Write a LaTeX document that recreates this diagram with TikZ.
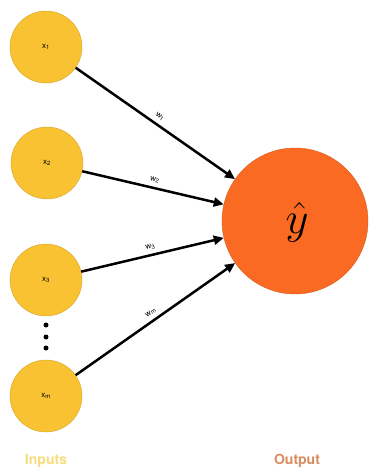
\documentclass[tikz,border=0pt]{standalone}
\usepackage{fontspec}
\setmainfont{TeX Gyre Heros}
\usetikzlibrary{arrows.meta}
\definecolor{inyellow}{HTML}{F8C232}
\definecolor{outorange}{HTML}{FA6A22}
\definecolor{inlabel}{HTML}{F6DC7C}
\definecolor{outlabel}{HTML}{D98A5E}

\begin{document}
\begin{tikzpicture}[x=1pt,y=-1pt,line width=2.5pt,>={Triangle[length=10pt,width=9pt]},
  inp/.style={circle,fill=inyellow,draw=inyellow!85!black,line width=0.4pt,minimum size=72pt,inner sep=0pt,font=\fontsize{8}{9}\selectfont},
  outp/.style={circle,fill=outorange,draw=outorange!85!black,line width=0.4pt,minimum size=146pt,inner sep=0pt},
  wlab/.style={midway,above,sloped,inner sep=4pt,font=\fontsize{8}{9}\selectfont},
  dot/.style={circle,fill=black,inner sep=0pt,minimum size=5pt}]
\useasboundingbox (0,0) rectangle (369,473);
% 输入层
\node[inp] (x1) at (46,47) {x\textsubscript{1}};
\node[inp] (x2) at (47,163) {x\textsubscript{2}};
\node[inp] (x3) at (46,280) {x\textsubscript{3}};
\node[inp] (xm) at (46,396) {x\textsubscript{m}};
% 省略号
\node[dot] (d1) at (46,325) {};
\node[dot] (d2) at (46,337) {};
\node[dot] (d3) at (46,348) {};
% 输出
\node[outp] (y) at (295,221) {};
\node[scale=1.8,inner sep=0pt] (yhat) at (297,222) {\Huge$\hat{y}$};
% 权重连线
\draw[->] (x1) -- (y) node[wlab] {w\textsubscript{1}};
\draw[->] (x2) -- (y) node[wlab] {w\textsubscript{2}};
\draw[->] (x3) -- (y) node[wlab] {w\textsubscript{3}};
\draw[->] (xm) -- (y) node[wlab] {w\textsubscript{m}};
% 标题
\node[text=inlabel,font=\bfseries\fontsize{14}{16}\selectfont] (lin) at (46,461) {Inputs};
\node[text=outlabel,font=\bfseries\fontsize{14}{16}\selectfont] (lout) at (297,461) {Output};
\end{tikzpicture}
\end{document}
